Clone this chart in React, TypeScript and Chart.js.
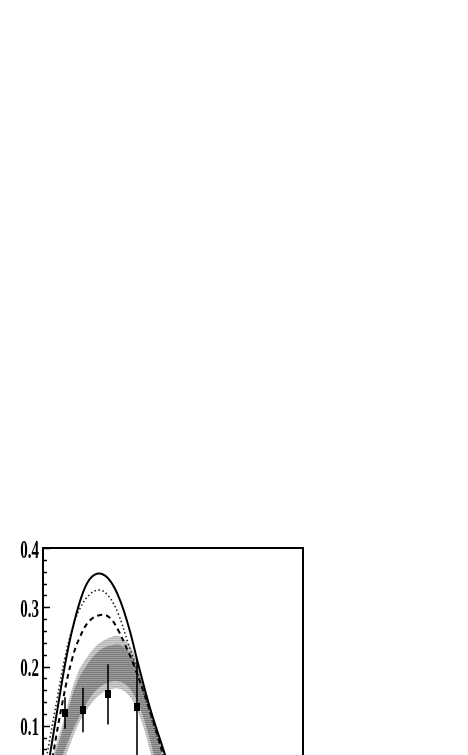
import React, { useEffect, useRef } from "react";
import { Chart, registerables } from "chart.js";

Chart.register(...registerables);

// ---- axes ----
const X_MIN = 0;
const X_MAX = 2.6;
const Y_MIN = 0;
const Y_MAX = 0.4;
const yTickValues = [0, 0.1, 0.2, 0.3, 0.4];
const yTickLabels = ["0", "0.1", "0.2", "0.3", "0.4"];
const yMinorStep = 0.02;

// ---- data points with vertical errors ----
const pointX = [0.22, 0.4, 0.65, 0.94];
const pointY = [0.121, 0.127, 0.153, 0.131];
const pointLow = [0.095, 0.089, 0.102, 0.0];
const pointHigh = [0.148, 0.164, 0.204, 0.214];

// ---- model curves ----
const solidX = [0.02, 0.07, 0.16, 0.23, 0.3, 0.4, 0.48, 0.57, 0.67, 0.77, 0.87, 0.94, 1.07, 1.22, 1.31];
const solidY = [0, 0.051, 0.144, 0.212, 0.267, 0.325, 0.35, 0.357, 0.345, 0.312, 0.259, 0.212, 0.13, 0.051, 0];

const dottedX = [-0.01, 0.04, 0.14, 0.22, 0.29, 0.37, 0.47, 0.56, 0.65, 0.75, 0.85, 0.92, 1.07, 1.2, 1.29];
const dottedY = [0, 0.051, 0.144, 0.215, 0.262, 0.298, 0.322, 0.329, 0.32, 0.29, 0.24, 0.205, 0.12, 0.051, 0];

const dashedX = [0.05, 0.1, 0.2, 0.29, 0.37, 0.47, 0.59, 0.67, 0.75, 0.82, 0.9, 1.07, 1.2, 1.29];
const dashedY = [0, 0.051, 0.144, 0.212, 0.25, 0.278, 0.2875, 0.282, 0.262, 0.237, 0.206, 0.125, 0.051, 0];

// ---- uncertainty bands ----
const bandX = [0.05, 0.12, 0.19, 0.27, 0.35, 0.43, 0.51, 0.59, 0.67, 0.75, 0.83, 0.91, 0.99, 1.07, 1.15, 1.23, 1.29];
const outerUpper = [0.02, 0.062, 0.1, 0.15, 0.19, 0.213, 0.231, 0.242, 0.249, 0.252, 0.243, 0.222, 0.183, 0.13, 0.088, 0.046, 0.015];
const innerUpper = [0.012, 0.051, 0.089, 0.138, 0.177, 0.2, 0.218, 0.23, 0.235, 0.237, 0.23, 0.211, 0.171, 0.125, 0.076, 0.028, 0];
const innerLower = [0, 0.015, 0.047, 0.081, 0.111, 0.136, 0.156, 0.168, 0.174, 0.175, 0.169, 0.152, 0.121, 0.076, 0.027, 0, 0];
const outerLower = [0, 0, 0.032, 0.068, 0.101, 0.125, 0.143, 0.155, 0.161, 0.163, 0.156, 0.138, 0.105, 0.058, 0.01, 0, 0];

const zip = (xs: number[], ys: number[]) => xs.map((x, i) => ({ x, y: ys[i] }));

function stripes(c1: string, c2: string) {
  const c = document.createElement("canvas");
  c.width = 2;
  c.height = 2;
  const g = c.getContext("2d")!;
  g.fillStyle = c1;
  g.fillRect(0, 0, 2, 1);
  g.fillStyle = c2;
  g.fillRect(0, 1, 2, 1);
  return g.createPattern(c, "repeat")!;
}

const framePlugin = {
  id: "frameAndLabels",
  afterDatasetsDraw(chart: any) {
    const { ctx, chartArea: a, scales } = chart;
    const xs = scales.x;
    const ys = scales.y;
    ctx.save();
    ctx.beginPath();
    ctx.rect(a.left, a.top, a.right - a.left, a.bottom - a.top);
    ctx.clip();
    ctx.strokeStyle = "#000";
    ctx.lineWidth = 1.6;
    for (let i = 0; i < pointX.length; i++) {
      const px = xs.getPixelForValue(pointX[i]);
      ctx.beginPath();
      ctx.moveTo(px, ys.getPixelForValue(pointLow[i]));
      ctx.lineTo(px, ys.getPixelForValue(pointHigh[i]));
      ctx.stroke();
    }
    ctx.restore();
  },
  afterDraw(chart: any) {
    const { ctx, chartArea: a, scales } = chart;
    const ys = scales.y;
    ctx.save();
    ctx.strokeStyle = "#000";
    ctx.lineWidth = 2;
    ctx.strokeRect(a.left, a.top, a.right - a.left, a.bottom - a.top);
    ctx.lineWidth = 1.5;
    const n = Math.round((Y_MAX - Y_MIN) / yMinorStep);
    for (let i = 0; i <= n; i++) {
      const v = Y_MIN + i * yMinorStep;
      const py = Math.round(ys.getPixelForValue(v)) + 0.5;
      const major = yTickValues.some((t) => Math.abs(t - v) < 1e-6);
      ctx.beginPath();
      ctx.moveTo(a.left, py);
      ctx.lineTo(a.left + (major ? 7 : 4), py);
      ctx.stroke();
    }
    ctx.fillStyle = "#000";
    ctx.font = "bold 25px 'Liberation Serif', 'Times New Roman', serif";
    ctx.textAlign = "right";
    ctx.textBaseline = "alphabetic";
    yTickValues.forEach((v, i) => {
      const py = ys.getPixelForValue(v);
      ctx.save();
      ctx.translate(a.left - 4, py + 9.5);
      ctx.scale(0.6, 1);
      ctx.fillText(yTickLabels[i], 0, 0);
      ctx.restore();
    });
    ctx.restore();
  },
};

export default function App() {
  const ref = useRef<HTMLCanvasElement | null>(null);

  useEffect(() => {
    const canvas = ref.current;
    if (!canvas) return;

    const marker = document.createElement("canvas");
    marker.width = 6;
    marker.height = 8;
    const mg = marker.getContext("2d")!;
    mg.fillStyle = "#000";
    mg.fillRect(0, 0, 6, 8);

    const lightFill = stripes("#b3b3b3", "#cfcfcf");
    const darkFill = stripes("#7c7c7c", "#9c9c9c");

    const lineBase = {
      pointRadius: 0,
      tension: 0.4,
      fill: false,
    };

    const chart = new Chart(canvas, {
      type: "line",
      data: {
        datasets: [
          {
            label: "data",
            data: zip(pointX, pointY),
            showLine: false,
            pointStyle: marker as any,
            pointRadius: 4,
            borderColor: "#000",
            backgroundColor: "#000",
            order: 0,
          },
          {
            ...lineBase,
            label: "solid",
            data: zip(solidX, solidY),
            borderColor: "#000",
            borderWidth: 2,
            order: 1,
          },
          {
            ...lineBase,
            label: "dotted",
            data: zip(dottedX, dottedY),
            borderColor: "#222",
            borderWidth: 1.6,
            borderDash: [1.5, 2.5],
            order: 2,
          },
          {
            ...lineBase,
            label: "dashed",
            data: zip(dashedX, dashedY),
            borderColor: "#000",
            borderWidth: 2,
            borderDash: [5, 4],
            order: 3,
          },
          {
            ...lineBase,
            label: "inner upper",
            data: zip(bandX, innerUpper),
            borderWidth: 0,
            borderColor: "rgba(0,0,0,0)",
            backgroundColor: darkFill as any,
            fill: "+1",
            order: 4,
          },
          {
            ...lineBase,
            label: "inner lower",
            data: zip(bandX, innerLower),
            borderWidth: 0,
            borderColor: "rgba(0,0,0,0)",
            order: 5,
          },
          {
            ...lineBase,
            label: "outer upper",
            data: zip(bandX, outerUpper),
            borderWidth: 0,
            borderColor: "rgba(0,0,0,0)",
            backgroundColor: lightFill as any,
            fill: "+1",
            order: 6,
          },
          {
            ...lineBase,
            label: "outer lower",
            data: zip(bandX, outerLower),
            borderWidth: 0,
            borderColor: "rgba(0,0,0,0)",
            order: 7,
          },
        ],
      },
      options: {
        animation: false,
        responsive: false,
        devicePixelRatio: 1,
        layout: { padding: { left: 43, top: 548, right: 165, bottom: 115 } },
        plugins: { legend: { display: false }, tooltip: { enabled: false } },
        scales: {
          x: { type: "linear", min: X_MIN, max: X_MAX, display: false },
          y: { type: "linear", min: Y_MIN, max: Y_MAX, display: false },
        },
      },
      plugins: [framePlugin],
    });
    return () => chart.destroy();
  }, []);

  return (
    <div style={{ position: "absolute", left: 0, top: 0, width: 468, height: 755, overflow: "hidden", background: "#fff" }}>
      <canvas ref={ref} width={468} height={900} style={{ width: 468, height: 900, display: "block" }} />
    </div>
  );
}
